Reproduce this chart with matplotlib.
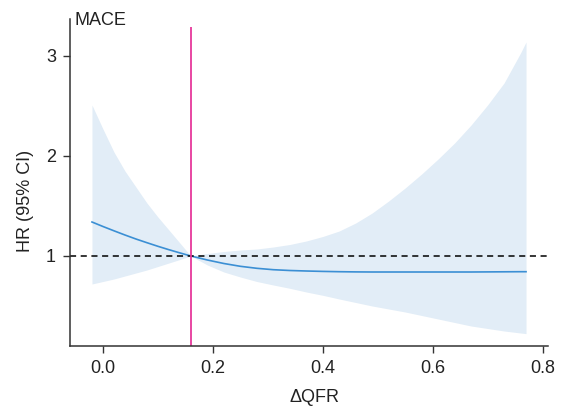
import matplotlib

matplotlib.use("Agg")
import matplotlib.pyplot as plt

plt.rcParams["font.family"] = ["Liberation Sans", "DejaVu Sans"]

# spline estimate
dqfr = [-0.02, 0.00, 0.02, 0.04, 0.06, 0.08, 0.10, 0.12, 0.14, 0.16,
        0.19, 0.22, 0.25, 0.28, 0.31, 0.34, 0.37, 0.40, 0.43, 0.46,
        0.49, 0.52, 0.55, 0.58, 0.61, 0.64, 0.67, 0.70, 0.73, 0.76, 0.77]
hr = [1.34, 1.295, 1.252, 1.21, 1.17, 1.133, 1.097, 1.063, 1.031, 1.00,
      0.96, 0.925, 0.897, 0.877, 0.863, 0.855, 0.85, 0.846, 0.843, 0.841,
      0.840, 0.840, 0.840, 0.840, 0.840, 0.840, 0.840, 0.841, 0.842, 0.843, 0.843]
ci_low = [0.72, 0.745, 0.77, 0.80, 0.83, 0.86, 0.895, 0.93, 0.965, 1.00,
          0.91, 0.84, 0.79, 0.745, 0.71, 0.677, 0.64, 0.607, 0.57, 0.535,
          0.50, 0.47, 0.44, 0.405, 0.37, 0.335, 0.30, 0.275, 0.25, 0.23, 0.224]
ci_high = [2.51, 2.27, 2.04, 1.85, 1.69, 1.53, 1.39, 1.26, 1.13, 1.00,
           1.025, 1.045, 1.06, 1.07, 1.09, 1.115, 1.15, 1.195, 1.25, 1.33,
           1.43, 1.55, 1.68, 1.82, 1.97, 2.13, 2.31, 2.51, 2.73, 3.03, 3.14]

ref_x = 0.16
ref_top = 3.29
x_ticks = [0.0, 0.2, 0.4, 0.6, 0.8]
y_ticks = [1, 2, 3]

fig = plt.figure(figsize=(5.61, 4.09), dpi=100)
ax = fig.add_axes([70 / 561, 1 - 346 / 409, 478 / 561, 327 / 409])

ax.fill_between(dqfr, ci_low, ci_high, color="#e2edf7", linewidth=0)
ax.plot(dqfr, hr, color="#3b8fd4", linewidth=1.2)
ax.axhline(1, color="black", linestyle=(0, (4, 3)), linewidth=1.1)
ax.vlines(ref_x, 0.1, ref_top, color="#e6389b", linewidth=1.3)

ax.set_xlim(-0.06, 0.81)
ax.set_ylim(0.1, 3.37)
ax.set_xticks(x_ticks)
ax.set_xticklabels([f"{t:.1f}" for t in x_ticks])
ax.set_yticks(y_ticks)

for side in ("top", "right"):
    ax.spines[side].set_visible(False)
for side in ("left", "bottom"):
    ax.spines[side].set_color("#333333")
    ax.spines[side].set_linewidth(1.1)
ax.tick_params(length=5, width=1.0, color="#333333", labelsize=13,
               labelcolor="#222222", pad=5)

ax.set_xlabel("\u0394QFR", fontsize=13, color="#222222")
ax.set_ylabel("HR (95% CI)", fontsize=13, color="#222222")
ax.xaxis.set_label_coords(0.512, -0.13)
ax.yaxis.set_label_coords(-0.075, 0.443)

ax.text(0.01, 1.02, "MACE", transform=ax.transAxes, fontsize=13,
        color="#222222", ha="left", va="top")

fig.savefig("out.png", dpi=100)
